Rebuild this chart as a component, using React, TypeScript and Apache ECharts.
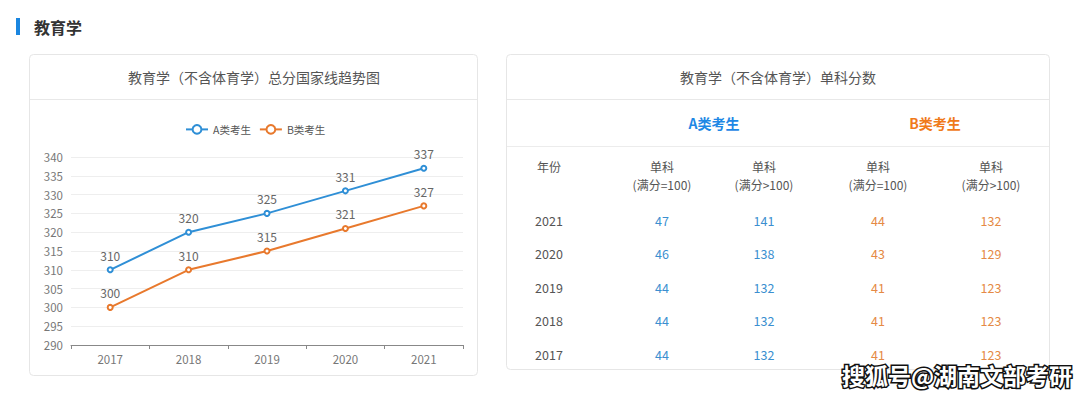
import React, { useEffect, useRef } from "react";
import * as echarts from "echarts";

const years = ["2017", "2018", "2019", "2020", "2021"];
const seriesA = [310, 320, 325, 331, 337];
const seriesB = [300, 310, 315, 321, 327];
const seriesNames = ["A类考生", "B类考生"];

const tableYears = ["2021", "2020", "2019", "2018", "2017"];
const aEq100 = [47, 46, 44, 44, 44];
const aGt100 = [141, 138, 132, 132, 132];
const bEq100 = [44, 43, 41, 41, 41];
const bGt100 = [132, 129, 123, 123, 123];
const colHeaders = ["(满分=100)", "(满分>100)", "(满分=100)", "(满分>100)"];

const FONT = "'Noto Sans CJK SC', 'Noto Sans', sans-serif";
const BLUE = "#2f8fd6";
const ORANGE = "#e8792d";

function txt(text: string, x: number, y: number, opts: any = {}) {
  return {
    type: "text",
    z: 1,
    style: {
      text,
      x,
      y,
      fill: opts.fill || "#555",
      fontSize: opts.fontSize || 13,
      fontWeight: opts.fontWeight || "normal",
      fontFamily: FONT,
      align: opts.align || "center",
      verticalAlign: "middle",
    },
  };
}

export default function App() {
  const ref = useRef<HTMLDivElement>(null);
  useEffect(() => {
    const chart = echarts.init(ref.current!, undefined, { renderer: "svg" });
    const graphics: any[] = [];
    // section header
    graphics.push({ type: "rect", z: 0, shape: { x: 16, y: 18, width: 4, height: 17 }, style: { fill: "#1a86e0" } });
    graphics.push(txt("教育学", 34, 27, { fill: "#333", fontSize: 16, fontWeight: "bold", align: "left" }));
    // left card
    graphics.push({ type: "rect", z: 0, shape: { x: 29.5, y: 54.5, width: 448, height: 321, r: 4 }, style: { fill: "#fff", stroke: "#e6e6e6", lineWidth: 1 } });
    graphics.push({ type: "line", z: 0, shape: { x1: 30, y1: 99.5, x2: 477, y2: 99.5 }, style: { stroke: "#e8e8e8", lineWidth: 1 } });
    graphics.push(txt("教育学（不含体育学）总分国家线趋势图", 254, 77, { fill: "#555", fontSize: 14 }));
    // right card
    graphics.push({ type: "rect", z: 0, shape: { x: 506.5, y: 54.5, width: 543, height: 315, r: 4 }, style: { fill: "#fff", stroke: "#e6e6e6", lineWidth: 1 } });
    graphics.push({ type: "line", z: 0, shape: { x1: 507, y1: 99.5, x2: 1049, y2: 99.5 }, style: { stroke: "#e8e8e8", lineWidth: 1 } });
    graphics.push({ type: "line", z: 0, shape: { x1: 507, y1: 146.5, x2: 1049, y2: 146.5 }, style: { stroke: "#ececec", lineWidth: 1 } });
    graphics.push(txt("教育学（不含体育学）单科分数", 778, 77, { fill: "#555", fontSize: 14 }));
    graphics.push(txt(seriesNames[0], 714, 123, { fill: "#1e88e5", fontSize: 14, fontWeight: "bold" }));
    graphics.push(txt(seriesNames[1], 935, 123, { fill: "#f07a1a", fontSize: 14, fontWeight: "bold" }));
    // table header
    const colX = [662, 764, 878, 991];
    graphics.push(txt("年份", 549, 166, { fill: "#555", fontSize: 12 }));
    colHeaders.forEach((h, i) => {
      graphics.push(txt("单科", colX[i], 166, { fill: "#555", fontSize: 12 }));
      graphics.push(txt(h, colX[i], 184, { fill: "#555", fontSize: 12 }));
    });
    const rowY = [220, 253.5, 287, 320.5, 354];
    tableYears.forEach((y, r) => {
      graphics.push(txt(y, 549, rowY[r], { fill: "#555", fontSize: 12.5 }));
      graphics.push(txt(String(aEq100[r]), colX[0], rowY[r], { fill: "#3b8fd0", fontSize: 12.5 }));
      graphics.push(txt(String(aGt100[r]), colX[1], rowY[r], { fill: "#3b8fd0", fontSize: 12.5 }));
      graphics.push(txt(String(bEq100[r]), colX[2], rowY[r], { fill: "#e58a45", fontSize: 12.5 }));
      graphics.push(txt(String(bGt100[r]), colX[3], rowY[r], { fill: "#e58a45", fontSize: 12.5 }));
    });
    // watermark
    graphics.push({
      type: "text",
      z: 10,
      style: {
        text: "搜狐号@湖南文部考研",
        x: 957,
        y: 375,
        fill: "#fff",
        stroke: "#111",
        lineWidth: 3,
        fontSize: 23,
        fontWeight: "bold",
        fontFamily: FONT,
        align: "center",
        verticalAlign: "middle",
      },
    });

    chart.setOption({
      animation: false,
      textStyle: { fontFamily: FONT },
      graphic: graphics,
      legend: {
        left: 180,
        top: 119,
        itemWidth: 22,
        itemHeight: 11,
        itemGap: 8,
        textStyle: { color: "#555", fontSize: 10.5 },
        data: seriesNames,
      },
      grid: { left: 71, right: 617, top: 157, bottom: 51, containLabel: false },
      xAxis: {
        type: "category",
        data: years,
        boundaryGap: true,
        axisLine: { lineStyle: { color: "#888" } },
        axisTick: { show: true, length: 4, lineStyle: { color: "#888" } },
        axisLabel: { color: "#777", fontSize: 11.5, margin: 8 },
      },
      yAxis: {
        type: "value",
        min: 290,
        max: 340,
        interval: 5,
        axisLine: { show: false },
        axisTick: { show: false },
        axisLabel: { color: "#777", fontSize: 11.5, margin: 8 },
        splitLine: { lineStyle: { color: "#eeeeee" } },
      },
      series: [
        {
          name: seriesNames[0],
          type: "line",
          data: seriesA,
          color: BLUE,
          symbol: "emptyCircle",
          symbolSize: 5,
          lineStyle: { width: 2 },
          label: { show: true, position: "top", color: "#666", fontSize: 12 },
        },
        {
          name: seriesNames[1],
          type: "line",
          data: seriesB,
          color: ORANGE,
          symbol: "emptyCircle",
          symbolSize: 5,
          lineStyle: { width: 2 },
          label: { show: true, position: "top", color: "#666", fontSize: 12 },
        },
      ],
    });
    return () => chart.dispose();
  }, []);
  return (
    <div
      ref={ref}
      style={{ position: "fixed", left: 0, top: 0, width: 1080, height: 396, background: "#fff" }}
    />
  );
}
